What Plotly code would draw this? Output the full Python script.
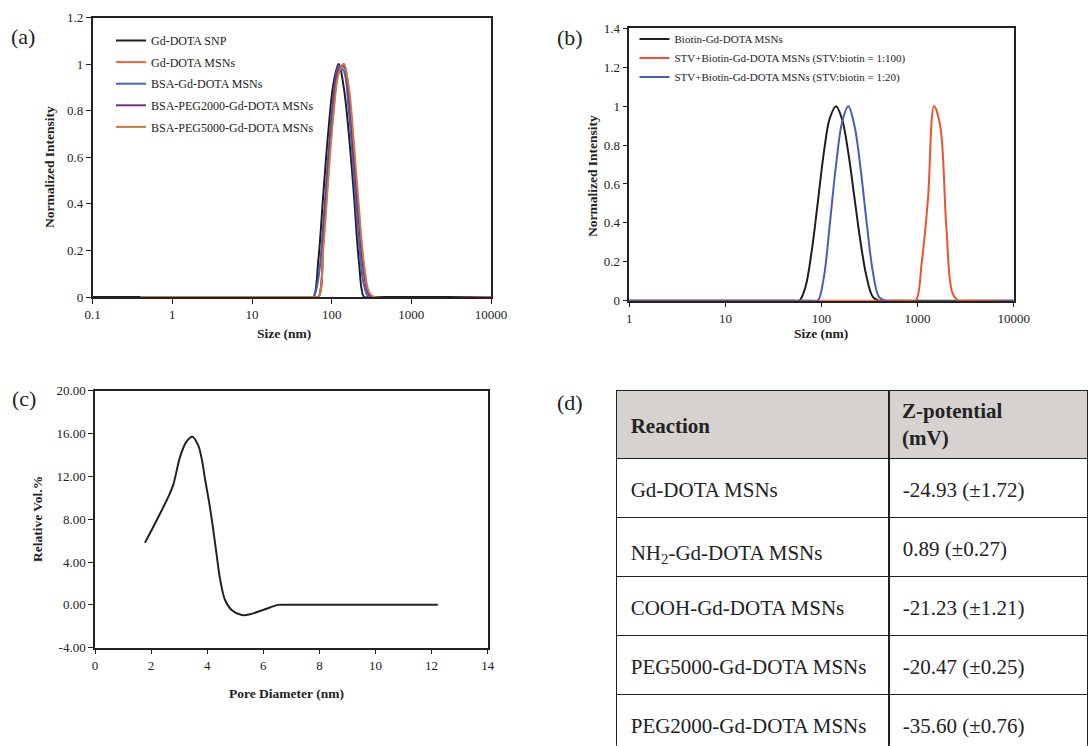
import plotly.graph_objects as go

W, H = 1088, 746
FONT = "Liberation Serif"
INK = "#222222"

# ---------------- Panel (a) data: DLS size distributions ----------------
A_SNP_X = [0.1, 0.4, 50.75, 58.77, 68.06, 78.82, 91.28, 105.7, 122.4, 141.8, 164.2, 190.1, 220.2, 255.0, 295.3, 10000]
A_SNP_Y = [0, 0, 0, 0, 0.16, 0.45, 0.72, 0.92, 1.0, 0.9, 0.7, 0.44, 0.15, 0, 0, 0]

A_MSN_X = [0.4, 58.77, 68.06, 78.82, 91.28, 105.7, 122.4, 141.8, 164.2, 190.1, 220.2, 255.0, 295.3, 342.0, 10000]
A_MSN_Y = [0, 0, 0, 0.24, 0.55, 0.81, 0.97, 1.0, 0.88, 0.63, 0.35, 0.12, 0.01, 0, 0]

A_BSA_X = [0.4, 50.75, 58.77, 68.06, 78.82, 91.28, 105.7, 122.4, 141.8, 164.2, 190.1, 220.2, 255.0, 295.3, 10000]
A_BSA_Y = [0, 0, 0, 0.08, 0.33, 0.63, 0.87, 0.99, 0.97, 0.8, 0.52, 0.23, 0.05, 0, 0]

A_P2K_X = [0.4, 58.77, 68.06, 78.82, 91.28, 105.7, 122.4, 141.8, 164.2, 190.1, 220.2, 255.0, 295.3, 342.0, 10000]
A_P2K_Y = [0, 0, 0, 0.27, 0.57, 0.83, 0.98, 0.99, 0.86, 0.6, 0.32, 0.1, 0.01, 0, 0]

A_P5K_X = [0.4, 58.77, 68.06, 78.82, 91.28, 105.7, 122.4, 141.8, 164.2, 190.1, 220.2, 255.0, 295.3, 342.0, 10000]
A_P5K_Y = [0, 0, 0, 0.22, 0.52, 0.79, 0.96, 1.0, 0.9, 0.66, 0.38, 0.14, 0.02, 0, 0]

A_NAMES = ["Gd-DOTA SNP", "Gd-DOTA MSNs", "BSA-Gd-DOTA MSNs",
           "BSA-PEG2000-Gd-DOTA MSNs", "BSA-PEG5000-Gd-DOTA MSNs"]
A_COLORS = ["#1e1e1e", "#f0643c", "#4a62b4", "#7a2a8a", "#cc7a40"]

# ---------------- Panel (b) data ----------------
B_BIO_X = [0.4, 50.75, 58.77, 68.06, 78.82, 91.28, 105.7, 122.4, 141.8, 164.2, 190.1, 220.2, 255.0, 295.3, 342.0, 396.1, 458.7, 10000]
B_BIO_Y = [0, 0, 0, 0.07, 0.25, 0.5, 0.76, 0.94, 1.0, 0.93, 0.76, 0.53, 0.3, 0.12, 0.02, 0, 0, 0]

B_100_X = [0.4, 712.4, 825.0, 955.4, 1106, 1281, 1484, 1718, 1990, 2305, 2669, 3091, 10000]
B_100_Y = [0, 0, 0, 0, 0.2, 0.52, 1.0, 0.9, 0.38, 0.04, 0, 0, 0]

B_20_X = [0.4, 78.82, 91.28, 105.7, 122.4, 141.8, 164.2, 190.1, 220.2, 255.0, 295.3, 342.0, 396.1, 458.7, 10000]
B_20_Y = [0, 0, 0, 0.12, 0.4, 0.7, 0.92, 1.0, 0.9, 0.68, 0.4, 0.15, 0.02, 0, 0]

B_NAMES = ["Biotin-Gd-DOTA MSNs",
           "STV+Biotin-Gd-DOTA MSNs (STV:biotin = 1:100)",
           "STV+Biotin-Gd-DOTA MSNs (STV:biotin = 1:20)"]
B_COLORS = ["#1e1e1e", "#f0502c", "#4a5cb4"]

# ---------------- Panel (c) data: pore size distribution ----------------
PORE_D = [1.78, 2.2, 2.65, 2.79, 3.03, 3.25, 3.47, 3.68, 3.80, 3.92, 4.08, 4.20, 4.32,
          4.46, 4.63, 4.87, 5.23, 5.53, 6.06, 6.54, 7.0, 8.0, 9.5, 11.0, 12.22]
PORE_V = [5.8, 7.9, 10.3, 11.2, 13.8, 15.2, 15.7, 14.9, 13.7, 11.8, 9.4, 7.3, 5.0,
          2.4, 0.5, -0.48, -0.95, -0.88, -0.41, 0.0, 0.0, 0.0, 0.0, 0.0, 0.0]

# ---------------- Panel (d) data: zeta potentials ----------------
REACTIONS = ["Gd-DOTA MSNs", "NH<sub>2</sub>-Gd-DOTA MSNs", "COOH-Gd-DOTA MSNs",
             "PEG5000-Gd-DOTA MSNs", "PEG2000-Gd-DOTA MSNs"]
Z_MEAN = [-24.93, 0.89, -21.23, -20.47, -35.60]
Z_SD = [1.72, 0.27, 1.21, 0.25, 0.76]
TABLE_HEADER = ["Reaction", "Z-potential", "(mV)"]

# tick labels
A_XTICKS = [0.1, 1, 10, 100, 1000, 10000]
B_XTICKS = [1, 10, 100, 1000, 10000]
A_YTICKS = [0, 0.2, 0.4, 0.6, 0.8, 1.0, 1.2]
B_YTICKS = [0, 0.2, 0.4, 0.6, 0.8, 1.0, 1.2, 1.4]
C_YTICKS = [-4, 0, 4, 8, 12, 16, 20]
C_XTICKS = [0, 2, 4, 6, 8, 10, 12, 14]


def px_x(p):
    return p / W


def px_y(p):
    return 1 - p / H


def num_label(v):
    return f"{v:g}"


fig = go.Figure()

a_series = [(A_SNP_X, A_SNP_Y), (A_MSN_X, A_MSN_Y), (A_BSA_X, A_BSA_Y),
            (A_P2K_X, A_P2K_Y), (A_P5K_X, A_P5K_Y)]
for i, ((xs, ys), name, col) in enumerate(zip(a_series, A_NAMES, A_COLORS)):
    fig.add_trace(go.Scatter(x=xs, y=ys, name=name, mode="lines",
                             line=dict(color=col, width=2, shape="spline", smoothing=1.0),
                             xaxis="x", yaxis="y", legend="legend", legendgroup=f"a{i}"))

b_series = [(B_BIO_X, B_BIO_Y), (B_100_X, B_100_Y), (B_20_X, B_20_Y)]
for i, ((xs, ys), name, col) in enumerate(zip(b_series, B_NAMES, B_COLORS)):
    fig.add_trace(go.Scatter(x=xs, y=ys, name=name, mode="lines",
                             line=dict(color=col, width=2, shape="spline", smoothing=1.0),
                             xaxis="x2", yaxis="y2", legend="legend2", legendgroup=f"b{i}"))

fig.add_trace(go.Scatter(x=PORE_D, y=PORE_V, mode="lines", showlegend=False,
                         line=dict(color=INK, width=2, shape="spline", smoothing=0.9),
                         xaxis="x3", yaxis="y3"))

# ---- table (d): grid + header fill, and the text layer (vertically centred) ----
z_text = [f"{m:.2f} (\u00b1{s:.2f})" for m, s in zip(Z_MEAN, Z_SD)]
TOP = 390.7
tfont = dict(family=FONT, size=21, color=INK)
n_rows = len(REACTIONS)
NB = "\u00a0"
fig.add_trace(go.Table(
    domain=dict(x=[px_x(616.7), 1.0], y=[0.0, px_y(TOP)]),
    columnwidth=[272.3, 199],
    header=dict(values=[" ", f"<b>{NB}{TABLE_HEADER[1]}<br>{NB}{TABLE_HEADER[2]}</b>"],
                fill_color="#d6d2cf", line=dict(color=INK, width=1.5),
                align="left", height=68, font=tfont),
    cells=dict(values=[[" "] * n_rows, [" "] * n_rows], fill_color="white",
               line=dict(color=INK, width=1.5), align="left", height=59, font=tfont),
))
SHIFT_Y, SHIFT_X = 15, 6
fig.add_trace(go.Table(
    domain=dict(x=[px_x(616.7 + SHIFT_X), 1.0], y=[0.0, px_y(TOP + SHIFT_Y)]),
    columnwidth=[272.3, 193],
    header=dict(values=[f"<b>{TABLE_HEADER[0]}</b>", " "],
                fill_color="rgba(0,0,0,0)", line=dict(color="rgba(0,0,0,0)", width=0),
                align="left", height=68, font=tfont),
    cells=dict(values=[REACTIONS, z_text], fill_color="rgba(0,0,0,0)",
               line=dict(color="rgba(0,0,0,0)", width=0), align="left", height=59,
               font=tfont),
))

tickfont = dict(family=FONT, size=13, color=INK)
axis_common = dict(showline=True, linecolor=INK, linewidth=1.5, mirror=True,
                   ticks="outside", ticklen=5, tickwidth=1.2, tickcolor=INK,
                   showgrid=False, zeroline=False, tickfont=tickfont,
                   automargin=False, layer="below traces")

fig.update_layout(
    width=W, height=H, margin=dict(l=0, r=0, t=0, b=0, autoexpand=False),
    paper_bgcolor="white", plot_bgcolor="white",
    font=dict(family=FONT, color=INK),
    xaxis=dict(domain=[px_x(92.7), px_x(491)], type="log", range=[-1, 4],
               tickvals=A_XTICKS, ticktext=[num_label(v) for v in A_XTICKS],
               anchor="y", **axis_common),
    yaxis=dict(domain=[px_y(297), px_y(17.5)], range=[0, 1.2], tickvals=A_YTICKS,
               ticktext=[num_label(v) for v in A_YTICKS],
               anchor="x", **axis_common),
    xaxis2=dict(domain=[px_x(629.3), px_x(1013.7)], type="log", range=[0, 4],
                tickvals=B_XTICKS, ticktext=[num_label(v) for v in B_XTICKS],
                anchor="y2", **axis_common),
    yaxis2=dict(domain=[px_y(300.7), px_y(28.3)], range=[0, 1.4], tickvals=B_YTICKS,
                ticktext=[num_label(v) for v in B_YTICKS],
                anchor="x2", **axis_common),
    xaxis3=dict(domain=[px_x(95), px_x(487.7)], range=[0, 14], tickvals=C_XTICKS,
                ticktext=[num_label(v) for v in C_XTICKS],
                anchor="y3", **axis_common),
    yaxis3=dict(domain=[px_y(647.7), px_y(390.7)], range=[-4, 20], tickvals=C_YTICKS,
                ticktext=[f"{v:.2f}" for v in C_YTICKS], anchor="x3", **axis_common),
    legend=dict(x=px_x(111), y=px_y(26), xanchor="left", yanchor="top",
                bgcolor="rgba(0,0,0,0)", tracegroupgap=2.6,
                font=dict(family=FONT, size=12, color=INK)),
    legend2=dict(x=px_x(634.5), y=px_y(24.5), xanchor="left", yanchor="top",
                 bgcolor="rgba(0,0,0,0)", tracegroupgap=0,
                 font=dict(family=FONT, size=11, color=INK)),
)

annotations = []
for txt, x, y in [("(a)", 23, 36), ("(b)", 570, 37), ("(c)", 24, 398), ("(d)", 570, 402)]:
    annotations.append(dict(text=txt, x=px_x(x), y=px_y(y), xref="paper", yref="paper",
                            showarrow=False, xanchor="center", yanchor="middle",
                            font=dict(family=FONT, size=22, color=INK)))
for txt, x, y, rot in [("Normalized Intensity", 49, 167, -90), ("Size (nm)", 284, 333, 0),
                       ("Normalized Intensity", 593, 176, -90), ("Size (nm)", 821, 333, 0),
                       ("Relative Vol.%", 37, 519, -90), ("Pore Diameter (nm)", 286, 693, 0)]:
    annotations.append(dict(text=f"<b>{txt}</b>", x=px_x(x), y=px_y(y), xref="paper", yref="paper",
                            showarrow=False, xanchor="center", yanchor="middle", textangle=rot,
                            font=dict(family=FONT, size=13.5, color=INK)))
fig.update_layout(annotations=annotations)

fig.write_html("out.html", config={"displayModeBar": False},
               post_script="document.body.style.margin='0';document.body.style.overflow='hidden';")
